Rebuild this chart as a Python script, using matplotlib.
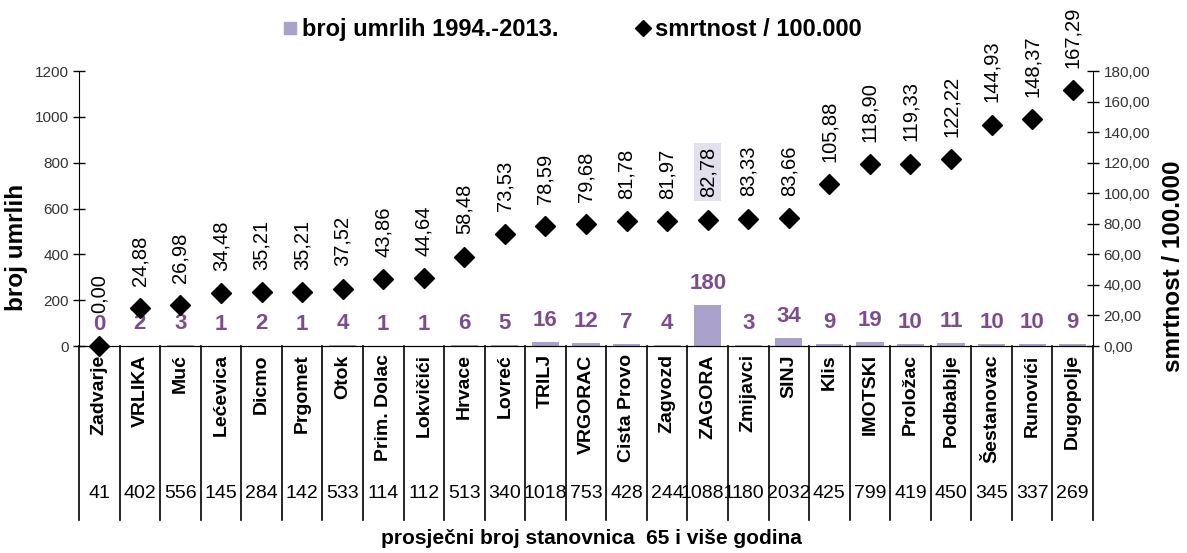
import matplotlib
matplotlib.use('Agg')
from matplotlib import pyplot as plt
from matplotlib.lines import Line2D

plt.rcParams['font.family'] = ['Liberation Sans', 'DejaVu Sans']

# podaci
mjesta = ['Zadvarje', 'VRLIKA', 'Muć', 'Lećevica', 'Dicmo', 'Prgomet', 'Otok',
          'Prim. Dolac', 'Lokvičići', 'Hrvace', 'Lovreć', 'TRILJ', 'VRGORAC',
          'Cista Provo', 'Zagvozd', 'ZAGORA', 'Zmijavci', 'SINJ', 'Klis',
          'IMOTSKI', 'Proložac', 'Podbablje', 'Šestanovac', 'Runovići', 'Dugopolje']
umrli = [0, 2, 3, 1, 2, 1, 4, 1, 1, 6, 5, 16, 12, 7, 4, 180, 3, 34, 9, 19, 10, 11, 10, 10, 9]
smrtnost = [0.00, 24.88, 26.98, 34.48, 35.21, 35.21, 37.52, 43.86, 44.64, 58.48,
            73.53, 78.59, 79.68, 81.78, 81.97, 82.78, 83.33, 83.66, 105.88, 118.90,
            119.33, 122.22, 144.93, 148.37, 167.29]
stanovnici = ['41', '402', '556', '145', '284', '142', '533', '114', '112', '513',
              '340', '1018', '753', '428', '244', '10881', '180', '2032', '425',
              '799', '419', '450', '345', '337', '269']

boja_stupca = '#a9a0cb'
boja_broja = '#7e4b90'

fig = plt.figure(figsize=(11.87, 5.53), dpi=100)
ax = fig.add_axes([0.0666, 0.3743, 0.8542, 0.4973])
ax2 = ax.twinx()

x = list(range(len(mjesta)))

# stupci - broj umrlih
ax.bar(x, umrli, width=0.67, color=boja_stupca, zorder=2)
for i, v in enumerate(umrli):
    ax.annotate(str(v), (i, v), xytext=(0, 8), textcoords='offset points',
                ha='center', va='bottom', fontsize=16, fontweight='bold',
                color=boja_broja, annotation_clip=False)

# rombovi - smrtnost
ax2.plot(x, smrtnost, 'D', color='black', markersize=10, linestyle='none',
         clip_on=False, zorder=3)
najveci = umrli.index(max(umrli))
for i, v in enumerate(smrtnost):
    tekst = f'{v:.2f}'.replace('.', ',')
    kw = {}
    if i == najveci:
        kw['bbox'] = dict(boxstyle='square,pad=0.2', fc='#e3e0ee', ec='none')
    pomak = 16 if v > 20 else 24
    ax2.annotate(tekst, (i, v), xytext=(0, pomak), textcoords='offset points',
                 rotation=90, ha='center', va='bottom', fontsize=14.5,
                 annotation_clip=False, **kw)

ax.set_xlim(-0.5, len(mjesta) - 0.5)
ax.set_ylim(0, 1200)
ax2.set_ylim(0, 180)
ax.set_yticks(range(0, 1201, 200))
ax2.set_yticks(range(0, 181, 20))
ax2.set_yticklabels([f'{t},00' for t in range(0, 181, 20)])

for a in (ax, ax2):
    a.spines['top'].set_visible(False)
    a.tick_params(axis='y', direction='inout', length=8, width=1,
                  labelsize=11, labelcolor='#333333')
ax.spines['right'].set_visible(False)
ax2.spines['left'].set_visible(False)
ax.set_xticks([])

ax.set_ylabel('broj umrlih', fontsize=17.5, fontweight='bold')
ax.yaxis.set_label_coords(-0.05, 0.36)
ax2.set_ylabel('smrtnost / 100.000', fontsize=17.5, fontweight='bold')
ax2.yaxis.set_label_coords(1.068, 0.29)

# tablica ispod osi
trans = ax.get_xaxis_transform()
for b in range(len(mjesta) + 1):
    ax.plot([b - 0.5, b - 0.5], [0, -0.633], color='black', lw=1.2,
            transform=trans, clip_on=False)
for i, ime in enumerate(mjesta):
    ax.text(i, -0.03, ime, transform=trans, rotation=90, ha='center', va='top',
            fontsize=14, fontweight='bold')
    ax.text(i, -0.535, stanovnici[i], transform=trans, ha='center', va='center',
            fontsize=14, family=['Liberation Sans Narrow', 'Liberation Sans'])

fig.text(0.321, 0.026, 'prosječni broj stanovnica  65 i više godina',
         ha='left', va='center', fontsize=15, fontweight='bold')

rucke = [Line2D([], [], marker='s', color=boja_stupca, linestyle='none', markersize=9),
         Line2D([], [], marker='D', color='black', linestyle='none', markersize=8.5)]
fig.legend(rucke, ['broj umrlih 1994.-2013.', 'smrtnost / 100.000'],
           loc='center', bbox_to_anchor=(0.482, 0.946), ncol=2, frameon=False,
           prop={'weight': 'bold', 'size': 17}, handletextpad=0.2,
           columnspacing=3.3, handlelength=0.6, borderpad=0)

fig.savefig('out.png', dpi=100)
